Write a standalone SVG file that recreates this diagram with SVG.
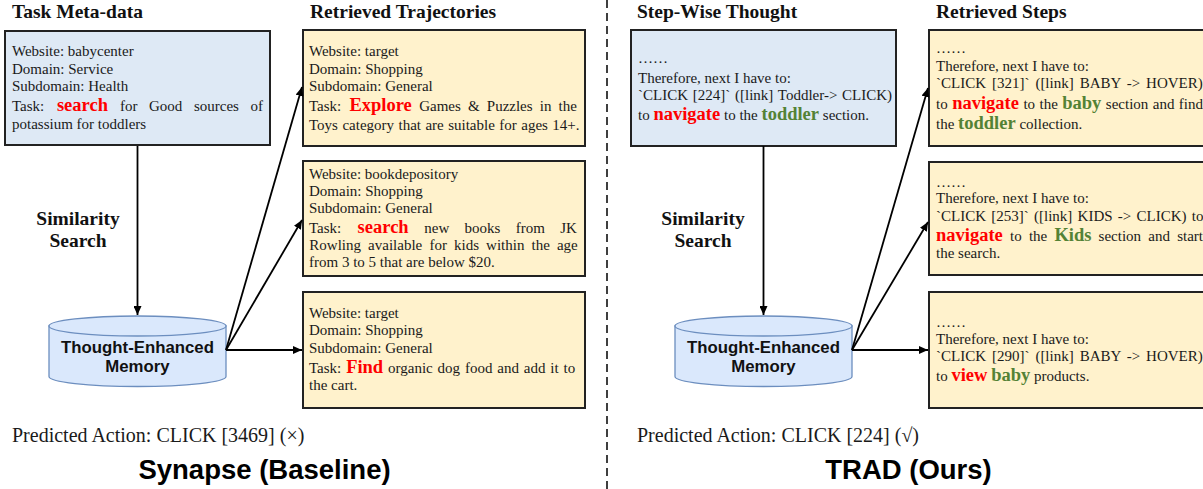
<svg xmlns="http://www.w3.org/2000/svg" width="1203" height="489" viewBox="0 0 1203 489">
<style>
.t{font-family:"Liberation Serif","Times New Roman",serif;font-size:15px;fill:#1a1a1a}
.b{font-weight:bold;font-size:18.5px}
.r{fill:#ff0000}
.g{fill:#548235}
.h{font-family:"Liberation Serif","Times New Roman",serif;font-weight:bold;font-size:19.5px;fill:#111}
.ss{text-anchor:middle}
.m{font-family:"Liberation Sans",Arial,sans-serif;font-weight:bold;font-size:16.8px;fill:#111;text-anchor:middle}
.big{font-family:"Liberation Sans",Arial,sans-serif;font-weight:bold;font-size:27.5px;fill:#000;text-anchor:middle}
.pa{font-family:"Liberation Serif","Times New Roman",serif;font-size:20px;fill:#1a1a1a}
.blue{fill:#dee9f5;stroke:#222;stroke-width:2}
.yel{fill:#fff2cc;stroke:#222;stroke-width:2}
.cyl{fill:#dae8fc;stroke:#6c8ebf;stroke-width:1.3}
.c{stroke:#000;stroke-width:1.8;fill:none;marker-end:url(#ah)}
</style>
<defs>
<marker id="ah" markerUnits="userSpaceOnUse" markerWidth="10" markerHeight="8" refX="9" refY="4" orient="auto">
<path d="M0,0 L9,4 L0,8 Z" fill="#000"/>
</marker>
</defs>

<line x1="607" y1="0" x2="607" y2="489" stroke="#000" stroke-width="1.5" stroke-dasharray="8,5"/>

<!-- Left panel -->
<text class="h" x="12" y="18">Task Meta-data</text>
<text class="h" x="310" y="18">Retrieved Trajectories</text>

<g id="meta">
<rect class="blue" x="5" y="31" width="265" height="114"/>
<text class="t" x="12" y="56">Website: babycenter</text>
<text class="t" x="12" y="74">Domain: Service</text>
<text class="t" x="12" y="91">Subdomain: Health</text>
<text class="t" y="111"><tspan x="12">Task:</tspan><tspan x="56.9" class="b r">search</tspan><tspan x="119.9">for</tspan><tspan x="149">Good</tspan><tspan x="193.9">sources</tspan><tspan x="250.5">of</tspan></text>
<text class="t" x="12" y="129">potassium for toddlers</text>
</g>

<g id="sim-left">
<text class="h ss" x="78" y="225">Similarity</text>
<text class="h ss" x="78" y="247">Search</text>
</g>

<g id="mem-left">
<path class="cyl" d="M49,326 L49,376.5 A88.5,10 0 0 0 226,376.5 L226,326 Z"/>
<ellipse class="cyl" cx="137.5" cy="326" rx="88.5" ry="10"/>
<text class="m" x="137.5" y="353">Thought-Enhanced</text>
<text class="m" x="137.5" y="372">Memory</text>
</g>

<g id="traj1">
<rect class="yel" x="303" y="30" width="282" height="116"/>
<text class="t" x="309" y="56">Website: target</text>
<text class="t" x="309" y="74">Domain: Shopping</text>
<text class="t" x="309" y="91">Subdomain: General</text>
<text class="t" y="111"><tspan x="309">Task:</tspan><tspan x="349.4" class="b r">Explore</tspan><tspan x="419.2">Games</tspan><tspan x="468">&amp;</tspan><tspan x="486.8">Puzzles</tspan><tspan x="539.8">in</tspan><tspan x="558.6">the</tspan></text>
<text class="t" x="309" y="130" word-spacing="0.7">Toys category that are suitable for ages 14+.</text>
</g>

<g id="traj2">
<rect class="yel" x="303" y="161" width="282" height="115"/>
<text class="t" x="309" y="179">Website: bookdepository</text>
<text class="t" x="309" y="195.5">Domain: Shopping</text>
<text class="t" x="309" y="212.5">Subdomain: General</text>
<text class="t" y="233"><tspan x="309">Task:</tspan><tspan x="357.6" class="b r">search</tspan><tspan x="424.3">new</tspan><tspan x="464.6">books</tspan><tspan x="515.7">from</tspan><tspan x="560.2">JK</tspan></text>
<text class="t" y="250"><tspan x="309.3">Rowling</tspan><tspan x="368.1">available</tspan><tspan x="429.4">for</tspan><tspan x="454">kids</tspan><tspan x="486.1">within</tspan><tspan x="531.5">the</tspan><tspan x="556.9">age</tspan></text>
<text class="t" x="309" y="267">from 3 to 5 that are below $20.</text>
</g>

<g id="traj3">
<rect class="yel" x="303" y="292" width="282" height="116"/>
<text class="t" x="309" y="318">Website: target</text>
<text class="t" x="309" y="335">Domain: Shopping</text>
<text class="t" x="309" y="353">Subdomain: General</text>
<text class="t" x="309" y="373" word-spacing="1.1">Task: <tspan class="b r">Find</tspan> organic dog food and add it to</text>
<text class="t" x="309" y="389.5">the cart.</text>
</g>

<text class="pa" x="12" y="442">Predicted Action: CLICK [3469] (×)</text>
<text class="big" x="264.5" y="479">Synapse (Baseline)</text>

<!-- Right panel -->
<text class="h" x="637" y="18">Step-Wise Thought</text>
<text class="h" x="936" y="18">Retrieved Steps</text>

<g id="thought">
<rect class="blue" x="631" y="30" width="265" height="116"/>
<text class="t" x="638" y="63">……</text>
<text class="t" x="638" y="83">Therefore, next I have to:</text>
<text class="t" x="638" y="99.5" word-spacing="1">`CLICK [224]` ([link] Toddler-&gt; CLICK)</text>
<text class="t" x="638" y="119.5">to <tspan class="b r">navigate</tspan> to the <tspan class="b g">toddler</tspan> section.</text>
</g>

<g id="sim-right">
<text class="h ss" x="703" y="225">Similarity</text>
<text class="h ss" x="703" y="247">Search</text>
</g>

<g id="mem-right">
<path class="cyl" d="M675,326 L675,376.5 A88.5,10 0 0 0 852,376.5 L852,326 Z"/>
<ellipse class="cyl" cx="763.5" cy="326" rx="88.5" ry="10"/>
<text class="m" x="763.5" y="353">Thought-Enhanced</text>
<text class="m" x="763.5" y="372">Memory</text>
</g>

<g id="step1">
<rect class="yel" x="929" y="30" width="290" height="116"/>
<text class="t" x="936" y="53">……</text>
<text class="t" x="936" y="70.5">Therefore, next I have to:</text>
<text class="t" x="936" y="87.5" word-spacing="2.2">`CLICK [321]` ([link] BABY -&gt; HOVER)</text>
<text class="t" x="936" y="109" word-spacing="0.7">to <tspan class="b r">navigate</tspan> to the <tspan class="b g">baby</tspan> section and find</text>
<text class="t" x="936" y="129">the <tspan class="b g">toddler</tspan> collection.</text>
</g>

<g id="step2">
<rect class="yel" x="929" y="162" width="290" height="113"/>
<text class="t" x="936" y="187">……</text>
<text class="t" x="936" y="202.5">Therefore, next I have to:</text>
<text class="t" x="936" y="220.5" word-spacing="1.5">`CLICK [253]` ([link] KIDS -&gt; CLICK) to</text>
<text class="t" y="241"><tspan x="936" class="b r">navigate</tspan><tspan x="1010">to</tspan><tspan x="1028.9">the</tspan><tspan x="1054.4" class="b g">Kids</tspan><tspan x="1098.6">section</tspan><tspan x="1148.3">and</tspan><tspan x="1177.2">start</tspan></text>
<text class="t" x="936" y="258">the search.</text>
</g>

<g id="step3">
<rect class="yel" x="929" y="292" width="290" height="116"/>
<text class="t" x="936" y="327">……</text>
<text class="t" x="936" y="344">Therefore, next I have to:</text>
<text class="t" x="936" y="361" word-spacing="2.2">`CLICK [290]` ([link] BABY -&gt; HOVER)</text>
<text class="t" x="936" y="381">to <tspan class="b r">view</tspan> <tspan class="b g">baby</tspan> products.</text>
</g>

<text class="pa" x="637" y="442">Predicted Action: CLICK [224] (√)</text>
<text class="big" x="908.5" y="479">TRAD (Ours)</text>

<g id="connectors">
<line class="c" x1="137.5" y1="146" x2="137.5" y2="315"/>
<line class="c" x1="226" y1="350" x2="302" y2="87"/>
<line class="c" x1="226" y1="350" x2="302" y2="220"/>
<line class="c" x1="226" y1="350" x2="302" y2="350"/>
<line class="c" x1="763.5" y1="146" x2="763.5" y2="315"/>
<line class="c" x1="852" y1="350" x2="928" y2="88"/>
<line class="c" x1="852" y1="350" x2="928" y2="222"/>
<line class="c" x1="852" y1="350" x2="928" y2="350"/>
</g>
</svg>
